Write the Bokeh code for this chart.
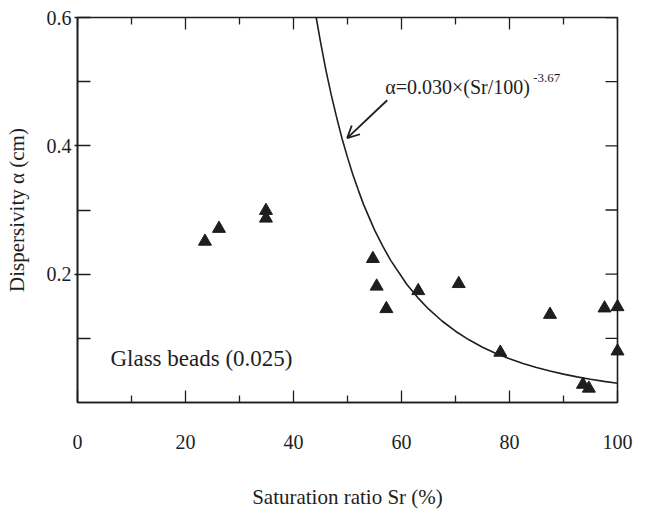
import math
from bokeh.plotting import figure
from bokeh.models import Range1d, FixedTicker, LinearAxis, Label, Arrow, OpenHead
from bokeh.embed import file_html
from bokeh.resources import INLINE

# ---- data ----
sr = [23.6, 26.2, 34.9, 34.9, 54.7, 55.4, 57.2, 63.1, 70.6, 78.3, 87.5, 93.6, 94.7, 97.6, 100.0, 100.0]
alpha = [0.251, 0.271, 0.299, 0.287, 0.224, 0.181, 0.146, 0.174, 0.185, 0.078, 0.137, 0.028, 0.022, 0.147, 0.149, 0.080]

fit_sr = [44.2, 45, 46, 47, 48, 49, 50, 51, 52, 53, 55, 56.5, 58, 61, 63, 65, 67.5, 70,
          72.5, 75, 77.5, 80, 82.5, 85, 87.5, 90, 92.5, 95, 97.5, 100]
fit_alpha = [0.600, 0.562, 0.518, 0.479, 0.444, 0.411, 0.382, 0.355, 0.331, 0.308, 0.269,
             0.244, 0.2215, 0.184, 0.1635, 0.1458, 0.127, 0.1111, 0.0977, 0.0862, 0.0765,
             0.0680, 0.0608, 0.0545, 0.0490, 0.0442, 0.0399, 0.0362, 0.0329, 0.030]

x_major = [0, 20, 40, 60, 80, 100]
x_minor = [10, 30, 50, 70, 90]
y_major = [0.2, 0.4, 0.6]
y_minor = [0.1, 0.3, 0.5]

x_title = "Saturation ratio Sr (%)"
y_title = "Dispersivity α (cm)"
formula_main = "α=0.030×(Sr/100)"
formula_exp = "-3.67"
sample_label = "Glass beads (0.025)"

FONT = "Liberation Serif, Times New Roman, Times, serif"
INK = "#1e1e1e"

x_lo, x_hi = min(x_major), max(x_major)
y_lo, y_hi = 0.0, max(y_major)

p = figure(width=662, height=513, x_range=Range1d(x_lo, x_hi), y_range=Range1d(y_lo, y_hi),
           x_axis_type=None, y_axis_type=None,
           output_backend="svg", toolbar_location=None,
           min_border_left=77, min_border_right=45, min_border_top=17, min_border_bottom=111)
p.outline_line_color = INK
p.outline_line_width = 1.6
p.background_fill_color = "white"
p.border_fill_color = "white"


def style(ax):
    ax.axis_line_color = INK
    ax.axis_line_width = 1.6
    ax.major_tick_line_color = INK
    ax.minor_tick_line_color = INK
    ax.major_tick_line_width = 1.3
    ax.minor_tick_line_width = 1.3
    ax.major_label_text_font = FONT
    ax.major_label_text_color = INK
    ax.major_label_text_font_size = "20px"
    ax.axis_label_text_font = FONT
    ax.axis_label_text_font_style = "normal"
    ax.axis_label_text_color = INK
    ax.axis_label_text_font_size = "21px"


xb = LinearAxis(ticker=FixedTicker(ticks=x_major, minor_ticks=x_minor), axis_label=x_title,
                major_tick_in=12, major_tick_out=0, minor_tick_in=7, minor_tick_out=0,
                major_label_standoff=32, axis_label_standoff=33)
style(xb)
p.add_layout(xb, "below")

yl = LinearAxis(ticker=FixedTicker(ticks=y_major, minor_ticks=y_minor), axis_label=y_title,
                major_tick_in=13, major_tick_out=3, minor_tick_in=13, minor_tick_out=0,
                major_label_standoff=3, axis_label_standoff=15)
style(yl)
p.add_layout(yl, "left")

# inward ticks on the top and right frame edges (markers clipped by the frame)
p.scatter(x_major, [y_hi] * len(x_major), marker="dash", size=24, angle=math.pi / 2,
          line_color=INK, line_width=1.3)
p.scatter(x_minor, [y_hi] * len(x_minor), marker="dash", size=14, angle=math.pi / 2,
          line_color=INK, line_width=1.3)
p.scatter([x_hi] * (len(y_major) + len(y_minor)), y_major + y_minor, marker="dash", size=24,
          line_color=INK, line_width=1.3)

p.line(fit_sr, fit_alpha, line_color=INK, line_width=1.6)
p.scatter(sr, alpha, marker="triangle", size=13, fill_color=INK, line_color=INK,
          line_width=1, level="overlay")

p.add_layout(Arrow(end=OpenHead(size=12, line_width=1.8, line_color=INK),
                   x_start=57.35, y_start=0.471, x_end=49.94, y_end=0.412,
                   line_width=1.8, line_color=INK))

p.add_layout(Label(x=57.0, y=0.491, text=formula_main, text_font=FONT, text_font_size="20px",
                   text_color=INK, text_baseline="alphabetic", text_align="left"))
p.add_layout(Label(x=84.4, y=0.506, text=formula_exp, text_font=FONT, text_font_size="13px",
                   text_color=INK, text_baseline="alphabetic", text_align="left"))
p.add_layout(Label(x=6.1, y=0.068, text=sample_label, text_font=FONT, text_font_size="23px",
                   text_color=INK, text_baseline="middle", text_align="left"))

open("out.html", "w").write(file_html(p, INLINE))
